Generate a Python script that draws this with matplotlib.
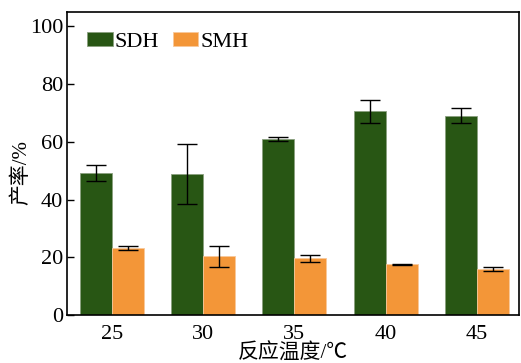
import numpy as np
import matplotlib.pyplot as plt

plt.rcParams['font.family'] = ['Liberation Serif', 'Noto Sans CJK SC']

temps = ['25', '30', '35', '40', '45']
sdh = [49.2, 48.8, 61.1, 70.6, 69.1]
sdh_err = [2.7, 10.4, 0.7, 3.9, 2.5]
smh = [23.3, 20.4, 19.7, 17.6, 15.9]
smh_err = [0.7, 3.7, 1.2, 0.2, 0.6]

x = np.arange(len(temps))
w = 0.35

fig, ax = plt.subplots(figsize=(5.21, 3.63), dpi=100)
fig.subplots_adjust(left=0.129, right=0.996, top=0.967, bottom=0.132)

ekw = dict(elinewidth=1.0, capthick=1.0, ecolor='black')
ax.bar(x - w/2, sdh, w, yerr=sdh_err, capsize=7.5, color='#285614',
       edgecolor='#8aa07f', linewidth=0.6, error_kw=ekw, label='SDH')
ax.bar(x + w/2, smh, w, yerr=smh_err, capsize=7.5, color='#f39638',
       edgecolor='#f8c89a', linewidth=0.6, error_kw=ekw, label='SMH')

ax.set_xlim(-0.49, 4.46)
ax.set_ylim(0, 105)
ax.set_yticks([0, 20, 40, 60, 80, 100])
ax.set_xticks(x)
ax.set_xticklabels(temps)
ax.tick_params(axis='x', length=0, labelsize=16, pad=7)
ax.tick_params(axis='y', direction='in', length=5, width=1, labelsize=16, pad=3)
for s in ax.spines.values():
    s.set_linewidth(1.2)

ax.set_xlabel('反应温度/℃', fontsize=15, labelpad=0)
ax.set_ylabel('产率/%', fontsize=15)
ax.yaxis.set_label_coords(-0.08, 0.47)

ax.legend(loc='upper left', ncol=2, frameon=False, fontsize=16,
          handlelength=1.15, handleheight=0.6, handletextpad=0.1,
          columnspacing=0.6, borderaxespad=0.5, bbox_to_anchor=(0.0, 1.0))

fig.savefig('out.png', dpi=100)
